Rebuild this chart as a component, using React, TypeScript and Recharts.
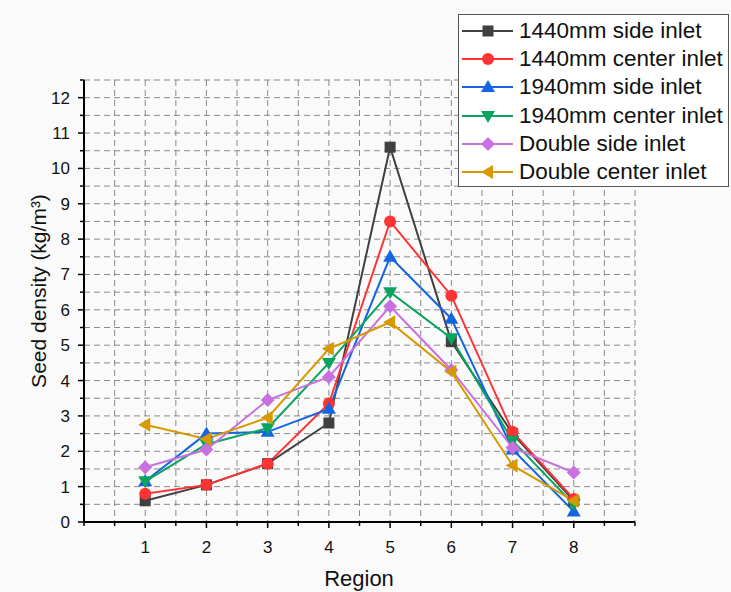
import React from 'react';
import { LineChart, Line, XAxis, YAxis, CartesianGrid, Label } from 'recharts';

const regions = [1, 2, 3, 4, 5, 6, 7, 8];
const side1440 = [0.6, 1.05, 1.65, 2.8, 10.6, 5.1, 2.5, 0.6];
const center1440 = [0.8, 1.05, 1.65, 3.35, 8.5, 6.4, 2.55, 0.65];
const side1940 = [1.15, 2.5, 2.55, 3.2, 7.5, 5.75, 2.05, 0.3];
const center1940 = [1.15, 2.2, 2.65, 4.5, 6.5, 5.2, 2.3, 0.5];
const doubleSide = [1.55, 2.05, 3.45, 4.1, 6.1, 4.3, 2.1, 1.4];
const doubleCenter = [2.75, 2.35, 2.95, 4.9, 5.65, 4.25, 1.6, 0.6];

const xTicks = [0, 0.5, 1, 1.5, 2, 2.5, 3, 3.5, 4, 4.5, 5, 5.5, 6, 6.5, 7, 7.5, 8, 8.5, 9];
const yTicks = [0, 0.5, 1, 1.5, 2, 2.5, 3, 3.5, 4, 4.5, 5, 5.5, 6, 6.5, 7, 7.5, 8, 8.5, 9, 9.5, 10, 10.5, 11, 11.5, 12, 12.5];
const xLabels = [1, 2, 3, 4, 5, 6, 7, 8];
const yLabels = [0, 1, 2, 3, 4, 5, 6, 7, 8, 9, 10, 11, 12];

const seriesList = [
  { key: 's1', name: '1440mm side inlet', values: side1440, color: '#404040', shape: 'square' },
  { key: 's2', name: '1440mm center inlet', values: center1440, color: '#ff3333', shape: 'circle' },
  { key: 's3', name: '1940mm side inlet', values: side1940, color: '#1466e0', shape: 'up' },
  { key: 's4', name: '1940mm center inlet', values: center1940, color: '#0aa360', shape: 'down' },
  { key: 's5', name: 'Double side inlet', values: doubleSide, color: '#c870e0', shape: 'diamond' },
  { key: 's6', name: 'Double center inlet', values: doubleCenter, color: '#d69a00', shape: 'left' },
];

const data = regions.map((r, i) => {
  const row: any = { region: r };
  seriesList.forEach((s) => { row[s.key] = s.values[i]; });
  return row;
});

const FONT = '"Liberation Sans", Arial, sans-serif';

function Marker({ cx, cy, shape, color }: { cx: number; cy: number; shape: string; color: string }) {
  if (shape === 'square') return <rect x={cx - 5.5} y={cy - 5.5} width={11} height={11} fill={color} />;
  if (shape === 'circle') return <circle cx={cx} cy={cy} r={6} fill={color} />;
  if (shape === 'up') return <polygon points={`${cx},${cy - 7} ${cx - 7},${cy + 5} ${cx + 7},${cy + 5}`} fill={color} />;
  if (shape === 'down') return <polygon points={`${cx},${cy + 7} ${cx - 7},${cy - 5} ${cx + 7},${cy - 5}`} fill={color} />;
  if (shape === 'diamond') return <polygon points={`${cx},${cy - 7} ${cx + 7},${cy} ${cx},${cy + 7} ${cx - 7},${cy}`} fill={color} />;
  return <polygon points={`${cx - 7},${cy} ${cx + 5},${cy - 7} ${cx + 5},${cy + 7}`} fill={color} />;
}

function makeDot(shape: string, color: string) {
  return (props: any) => {
    const { cx, cy, index } = props;
    if (cx == null || cy == null) return <g key={index} />;
    return <Marker key={index} cx={cx} cy={cy} shape={shape} color={color} />;
  };
}

function XTick(props: any) {
  const { x, y, payload } = props;
  const major = xLabels.includes(payload.value);
  return (
    <g>
      <line x1={x} x2={x} y1={y} y2={y + (major ? 6 : 4)} stroke="#000" strokeWidth={1.5} />
      {major && (
        <text x={x} y={y + 31} textAnchor="middle" fontSize={17} fontFamily={FONT} fill="#111">
          {payload.value}
        </text>
      )}
    </g>
  );
}

function YTick(props: any) {
  const { x, y, payload } = props;
  const major = yLabels.includes(payload.value);
  return (
    <g>
      <line x1={x - (major ? 6 : 4)} x2={x} y1={y} y2={y} stroke="#000" strokeWidth={1.5} />
      {major && (
        <text x={x - 14} y={y + 6} textAnchor="end" fontSize={17} fontFamily={FONT} fill="#111">
          {payload.value}
        </text>
      )}
    </g>
  );
}

function YTitle() {
  return (
    <text
      x={0}
      y={0}
      transform="translate(46,291) rotate(-90)"
      textAnchor="middle"
      fontSize={21}
      fontFamily={FONT}
      fill="#111"
    >
      Seed density (kg/m³)
    </text>
  );
}

function XTitle() {
  return (
    <text x={359} y={586} textAnchor="middle" fontSize={22} fontFamily={FONT} fill="#111">
      Region
    </text>
  );
}

function LegendBox() {
  return (
    <div
      style={{
        position: 'absolute',
        left: 458,
        top: 14,
        width: 271,
        height: 173,
        border: '1px solid #555',
        background: '#fff',
        boxSizing: 'border-box',
        paddingTop: 2,
      }}
    >
      {seriesList.map((s) => (
        <div key={s.key} style={{ display: 'flex', alignItems: 'center', height: 28.2 }}>
          <svg width={58} height={20} style={{ flex: 'none' }}>
            <line x1={3} x2={54} y1={10} y2={10} stroke={s.color} strokeWidth={2} />
            <Marker cx={29} cy={10} shape={s.shape} color={s.color} />
          </svg>
          <span style={{ fontFamily: FONT, fontSize: 22.5, color: '#111', marginLeft: 2, whiteSpace: 'nowrap' }}>
            {s.name}
          </span>
        </div>
      ))}
    </div>
  );
}

export default function App() {
  return (
    <div style={{ position: 'relative', width: 731, height: 592, background: '#fafafa' }}>
      <style>{`body{margin:0}`}</style>
      <LineChart
        width={731}
        height={592}
        data={data}
        margin={{ top: 80, right: 96, bottom: 0, left: 0 }}
      >
        <CartesianGrid stroke="#8a8a8a" strokeDasharray="6 4" strokeWidth={1} />
        <XAxis
          dataKey="region"
          type="number"
          domain={[0, 9]}
          ticks={xTicks}
          interval={0}
          height={70}
          tickSize={0}
          tickMargin={0}
          tick={<XTick />}
          stroke="#000"
          strokeWidth={2}
        >
          <Label content={<XTitle />} />
        </XAxis>
        <YAxis
          type="number"
          domain={[0, 12.5]}
          ticks={yTicks}
          interval={0}
          width={84}
          tickSize={0}
          tickMargin={0}
          tick={<YTick />}
          stroke="#000"
          strokeWidth={2}
        >
          <Label content={<YTitle />} />
        </YAxis>
        {seriesList.map((s) => (
          <Line
            key={s.key}
            dataKey={s.key}
            name={s.name}
            type="linear"
            stroke={s.color}
            strokeWidth={2}
            dot={makeDot(s.shape, s.color)}
            activeDot={false}
            isAnimationActive={false}
          />
        ))}
      </LineChart>
      <LegendBox />
    </div>
  );
}
